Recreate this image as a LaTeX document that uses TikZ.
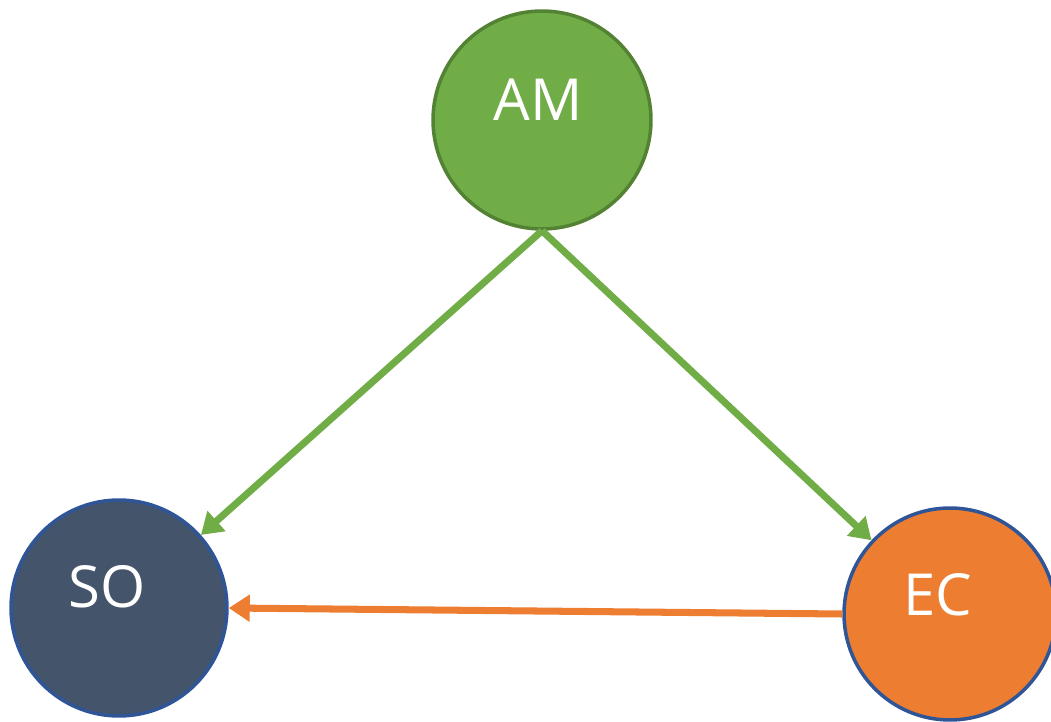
\documentclass[tikz,border=0pt]{standalone}
\usepackage{fontspec}
\setmainfont{Open Sans}
\usepackage{tikz}
\usetikzlibrary{arrows.meta}
\definecolor{amgreen}{HTML}{70AD47}
\definecolor{amedge}{HTML}{548235}
\definecolor{soslate}{HTML}{44546A}
\definecolor{ecorange}{HTML}{ED7D31}
\definecolor{ringblue}{HTML}{2F5597}
\tikzset{
  disc/.style={circle,line width=2pt,inner sep=0pt},
  discam/.style={disc,draw=amedge,fill=amgreen,minimum size=4.36cm},
  discso/.style={disc,draw=ringblue,fill=soslate,minimum size=4.32cm},
  discec/.style={disc,draw=ringblue,fill=ecorange,minimum size=4.24cm},
  nm/.style={text=white,font=\fontsize{33}{40}\selectfont,inner sep=0pt},
  arg/.style={-{Triangle[length=0.42cm,width=0.52cm]},line width=4pt,draw=amgreen},
  aro/.style={-{Triangle[length=0.42cm,width=0.52cm]},line width=4pt,draw=ecorange},
}
\begin{document}
\begin{tikzpicture}[x=0.02cm,y=-0.02cm]
  \useasboundingbox (0,0) rectangle (1051,722);
  \node[discam] (am) at (542,120) {};
  \node[discso] (so) at (119,608) {};
  \node[discec] (ec) at (950,614) {};
  \node[nm] (amtxt) at ([shift={(-4,-20)}]am.center) {AM};
  \node[nm] (sotxt) at ([shift={(-12,-21)}]so.center) {SO};
  \node[nm] (ectxt) at ([shift={(-12,-19)}]ec.center) {EC};
  \draw[arg] (am.south) -- (so);
  \draw[arg] (am.south) -- (ec);
  \draw[aro] (ec.west) -- (so.east);
\end{tikzpicture}
\end{document}
